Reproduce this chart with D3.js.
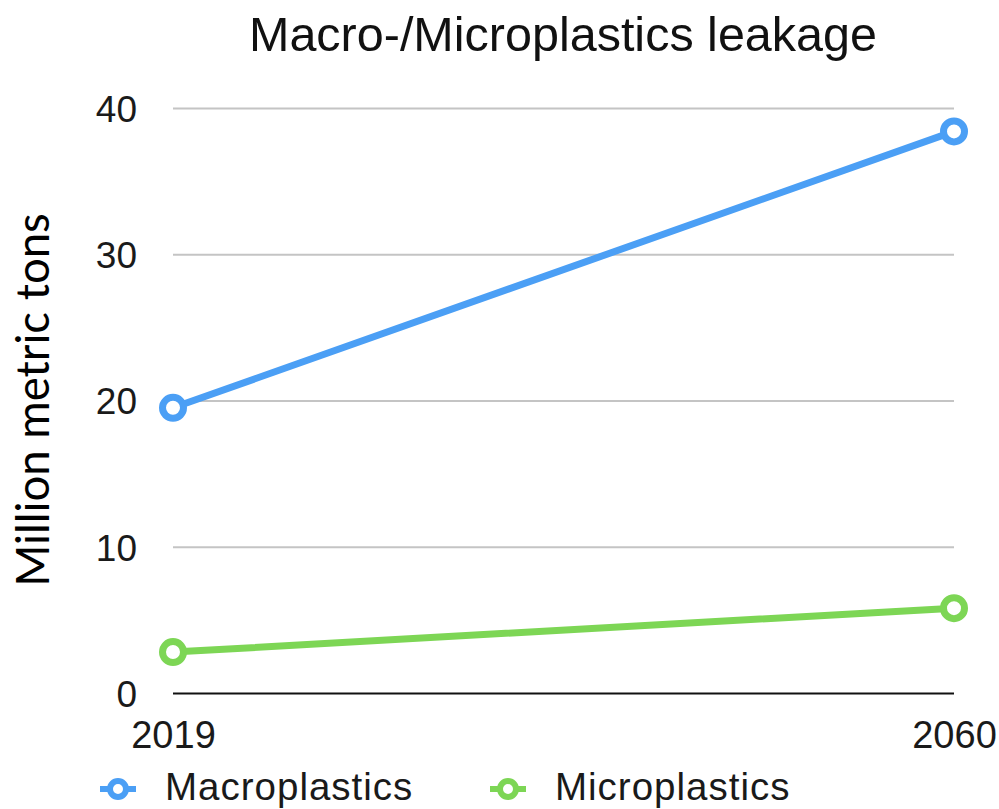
<!DOCTYPE html>
<html>
<head>
<meta charset="utf-8">
<script src="https://cdn.jsdelivr.net/npm/d3@7"></script>
<style>
  html, body { margin: 0; padding: 0; background: #fff; }
  svg { display: block; }
</style>
</head>
<body>
<svg id="chart" width="999" height="809"></svg>
<script>
// Leakage in million metric tons
const years = ["2019", "2060"];
const macroplastics = [19.5, 38.4];
const microplastics = [2.8, 5.8];
const yTicks = [0, 10, 20, 30, 40];
const seriesNames = ["Macroplastics", "Microplastics"];
const seriesColors = ["#4b9ff5", "#7dd655"];

const series = [
  { name: seriesNames[0], values: macroplastics, color: seriesColors[0] },
  { name: seriesNames[1], values: microplastics, color: seriesColors[1] }
];

const svg = d3.select("#chart");
const margin = { top: 108, right: 45, bottom: 116, left: 173 };
const W = 999, H = 809;

const x = d3.scalePoint().domain(years).range([margin.left, W - margin.right]);
const y = d3.scaleLinear().domain([0, 40]).range([H - margin.bottom, margin.top]);

const sans = "'Liberation Sans', Arial, Helvetica, sans-serif";

// Title
svg.append("text")
  .attr("x", 563).attr("y", 51)
  .attr("text-anchor", "middle")
  .attr("font-family", sans)
  .attr("font-size", 48.5)
  .attr("fill", "#111")
  .text("Macro-/Microplastics leakage");

// Y axis title
svg.append("text")
  .attr("transform", "translate(49,400) rotate(-90)")
  .attr("text-anchor", "middle")
  .attr("font-family", "Lato, 'Open Sans', sans-serif")
  .attr("font-size", 45.5)
  .attr("fill", "#000")
  .text("Million metric tons");

// Gridlines and y tick labels
const yAxis = d3.axisLeft(y).tickValues(yTicks)
  .tickSize(-(W - margin.right - margin.left))
  .tickPadding(36)
  .tickFormat(d3.format("d"));

const gy = svg.append("g")
  .attr("transform", `translate(${margin.left},0)`)
  .call(yAxis);
gy.select(".domain").remove();
gy.selectAll(".tick line")
  .attr("stroke", d => d === 0 ? "#111" : "#c4c4c4")
  .attr("stroke-width", 2);
gy.selectAll(".tick text")
  .attr("font-family", sans)
  .attr("font-size", 37)
  .attr("fill", "#1a1a1a")
  .attr("dy", "0.36em");

// X tick labels
const gx = svg.append("g")
  .attr("transform", `translate(0,${y(0)})`)
  .call(d3.axisBottom(x).tickSize(0).tickPadding(28));
gx.select(".domain").remove();
gx.selectAll(".tick text")
  .attr("font-family", sans)
  .attr("font-size", 38)
  .attr("fill", "#1a1a1a")
  .attr("dy", "0.71em");

// Lines
const line = d3.line()
  .x((d, i) => x(years[i]))
  .y(d => y(d));

series.forEach(s => {
  svg.append("path")
    .datum(s.values)
    .attr("d", line)
    .attr("fill", "none")
    .attr("stroke", s.color)
    .attr("stroke-width", 7)
    .attr("stroke-linecap", "round");

  svg.selectAll(null)
    .data(s.values)
    .join("circle")
    .attr("cx", (d, i) => x(years[i]))
    .attr("cy", d => y(d))
    .attr("r", 10.5)
    .attr("fill", "#fff")
    .attr("stroke", s.color)
    .attr("stroke-width", 7);
});

// Legend
const legendX = [118, 508];
series.forEach((s, i) => {
  const g = svg.append("g").attr("transform", `translate(${legendX[i]},789)`);
  g.append("line")
    .attr("x1", -18).attr("x2", 18)
    .attr("stroke", s.color).attr("stroke-width", 6);
  g.append("circle")
    .attr("r", 8)
    .attr("fill", "#fff")
    .attr("stroke", s.color)
    .attr("stroke-width", 6);
  g.append("text")
    .attr("x", 47).attr("y", 11)
    .attr("font-family", sans)
    .attr("font-size", 38.5)
    .attr("letter-spacing", 1)
    .attr("fill", "#1a1a1a")
    .text(s.name);
});
</script>
</body>
</html>
